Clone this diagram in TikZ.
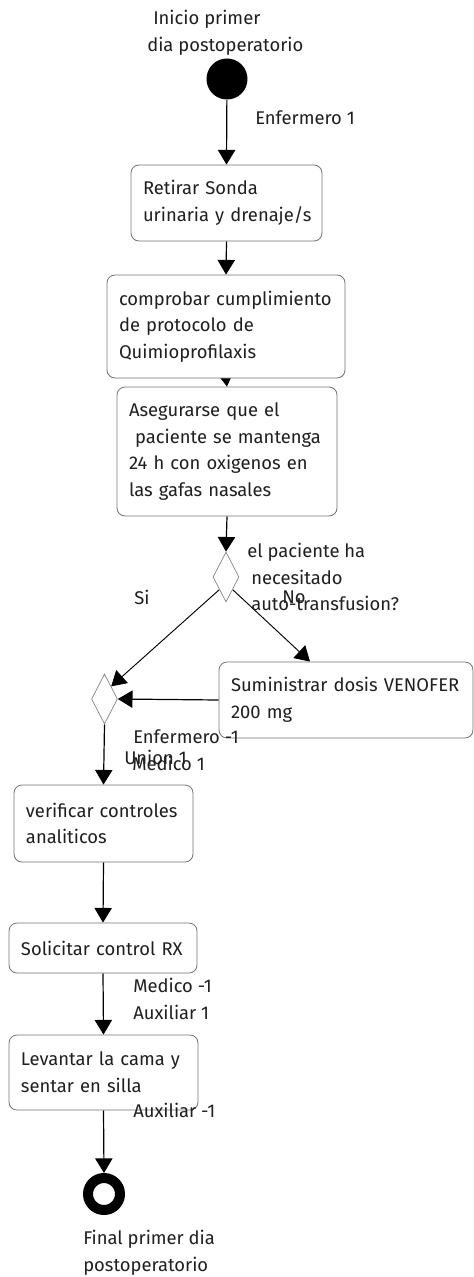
\documentclass[tikz,border=0pt]{standalone}
\usepackage{fontspec}
\setmainfont{Fira Sans}
\usetikzlibrary{shapes.geometric,arrows.meta,backgrounds}
% one unbreakable line of box text
\newcommand{\boxline}[1]{\mbox{#1}}
\begin{document}
\begin{tikzpicture}[x=0.75pt,y=-0.75pt,
  font=\fontsize{13.8}{20}\selectfont,
  every node/.style={text=black!88},
  actbox/.style 2 args={draw=black!55, line width=0.6pt, rounded corners=6pt,
    fill=white, align=left, inner xsep=9pt, inner ysep=0pt,
    text width=#1, minimum height=#2},
  decision/.style={diamond, draw=black!50, line width=0.5pt, fill=white,
    inner sep=0pt, minimum width=19.5pt, minimum height=37.5pt},
  flow/.style={draw=black, line width=0.9pt, -{Triangle[width=13pt,length=11pt]}},
  lbl/.style={anchor=west, align=left, inner sep=0pt}
]
\useasboundingbox (0,0) rectangle (474,1277);

% start and end states
\node[circle, fill=black, inner sep=0pt, minimum size=30.75pt] (start) at (227,79) {};
\node[circle, draw=black, line width=7.5pt, inner sep=0pt, minimum size=24pt] (stop) at (104,1194) {};

% activities
\node[actbox={125.25pt}{57pt}] (retirar) at (226.5,203)
  {\boxline{Retirar Sonda}\\\boxline{urinaria y drenaje/s}};
\node[actbox={160.5pt}{77.25pt}] (comprobar) at (226,326.5)
  {\boxline{comprobar cumplimiento}\\\boxline{de protocolo de}\\\boxline{Quimioprofilaxis}};
\node[actbox={147pt}{96.75pt}] (asegurar) at (227,451.5)
  {\boxline{Asegurarse que el}\\\boxline{\ paciente se mantenga}\\\boxline{24 h con oxigenos en}\\\boxline{las gafas nasales}};
\node[actbox={172.5pt}{57pt}] (venofer) at (346,700)
  {\boxline{Suministrar dosis VENOFER}\\\boxline{200 mg}};
\node[actbox={116.25pt}{57.75pt}] (verificar) at (103.5,823.5)
  {\boxline{verificar controles}\\\boxline{analiticos}};
\node[actbox={123pt}{37.5pt}] (rx) at (103,948)
  {\boxline{Solicitar control RX}};
\node[actbox={123.75pt}{56.25pt}] (levantar) at (103.5,1072.5)
  {\boxline{Levantar la cama y}\\\boxline{sentar en silla}};

% decision and merge
\node[decision] (transf) at (226,577) {};
\node[decision] (union) at (104.5,699) {};

% connectors
\begin{scope}[on background layer]
\draw[flow] (start) -- (retirar.north);
\draw[flow] (retirar.south) -- (comprobar.north);
\draw[flow] (comprobar.south) -- (asegurar.north);
\draw[flow] (asegurar.south) -- (transf.north);
\draw[flow, line width=0.7pt] (transf.south west) -- (union.north east);
\draw[flow, line width=0.7pt] (transf.south east) -- ([xshift=-27pt]venofer.north);
\draw[flow] (venofer.west) -- (union.east);
\draw[flow] (union.south) -- (verificar.north);
\draw[flow] (verificar.south) -- (rx.north);
\draw[flow] (rx.south) -- (levantar.north);
\draw[flow] (levantar.south) -- (stop.north);
\end{scope}

% labels
\node[lbl] (tinicio) at (147,32.5) {\hspace*{4.5pt}Inicio primer\\dia postoperatorio};
\node[lbl] (tenf1) at (255,118) {Enfermero 1};
\node[lbl] (tpregunta) at (247,577) {el paciente ha\\\hspace*{3pt}necesitado\\\hspace*{3pt}auto-transfusion?};
\node[lbl, anchor=center] (tsi) at (142,597) {Si};
\node[lbl, anchor=center] (tno) at (294,597) {No};
\node[lbl] (tenfm1) at (133,737) {Enfermero -1};
\node[lbl] (tunion) at (124,757) {Union 1};
\node[lbl] (tmed1) at (132,763) {Medico 1};
\node[lbl] (tmedm1) at (133,985) {Medico -1};
\node[lbl] (taux1) at (133,1012) {Auxiliar 1};
\node[lbl] (tauxm1) at (133,1110) {Auxiliar -1};
\node[lbl] (tfinal) at (83,1252.5) {Final primer dia\\postoperatorio};
\end{tikzpicture}
\end{document}
